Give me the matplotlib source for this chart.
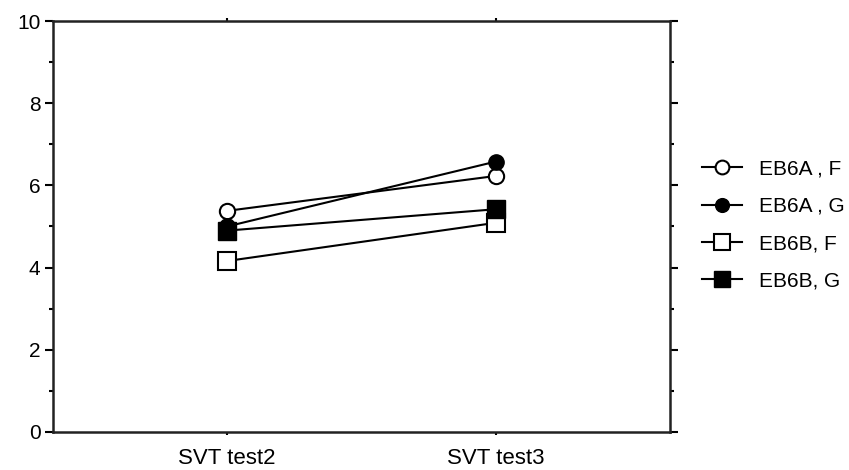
import matplotlib.pyplot as plt
from matplotlib.ticker import MultipleLocator

plt.rcParams['font.family'] = ['Liberation Sans', 'DejaVu Sans']

# data
tests = ['SVT test2', 'SVT test3']
eb6a_f = [5.38, 6.23]
eb6a_g = [5.00, 6.58]
eb6b_f = [4.16, 5.09]
eb6b_g = [4.90, 5.42]

fig = plt.figure(figsize=(8.49, 4.70), dpi=100)
ax = fig.add_axes([0.0624, 0.0809, 0.7266, 0.8744])

x = list(range(len(tests)))

# open circle / filled circle / open square / filled square
ax.plot(x, eb6a_f, color='black', linewidth=1.5, marker='o', markersize=11,
        markerfacecolor='white', markeredgecolor='black', markeredgewidth=1.5, label='EB6A , F')
ax.plot(x, eb6a_g, color='black', linewidth=1.5, marker='o', markersize=11,
        markerfacecolor='black', markeredgecolor='black', label='EB6A , G')
ax.plot(x, eb6b_f, color='black', linewidth=1.5, marker='s', markersize=12.5,
        markerfacecolor='white', markeredgecolor='black', markeredgewidth=1.5, label='EB6B, F')
ax.plot(x, eb6b_g, color='black', linewidth=1.5, marker='s', markersize=12.5,
        markerfacecolor='black', markeredgecolor='black', label='EB6B, G')

ax.set_xlim(-0.647, 1.647)
ax.set_ylim(0, 10)
ax.set_xticks(x)
ax.set_xticklabels(tests, fontsize=16)
ax.yaxis.set_major_locator(MultipleLocator(2))
ax.yaxis.set_minor_locator(MultipleLocator(1))
ax.tick_params(axis='y', which='major', direction='out', length=6, width=1.5,
               labelsize=15, right=True, pad=3)
ax.tick_params(axis='y', which='minor', direction='out', length=3, width=1.5, right=True)
ax.tick_params(axis='x', which='major', direction='out', length=2.5, width=1.5, top=True, pad=9)

for side in ['left', 'right', 'top', 'bottom']:
    ax.spines[side].set_linewidth(1.8)
    ax.spines[side].set_color('#222222')

ax.legend(loc='center left', bbox_to_anchor=(0.827, 0.521), bbox_transform=fig.transFigure,
          frameon=False, fontsize=15, handlelength=1.9, handletextpad=0.85,
          labelspacing=0.88, markerscale=0.9, borderpad=0, borderaxespad=0)

fig.savefig('out.png', dpi=100)
